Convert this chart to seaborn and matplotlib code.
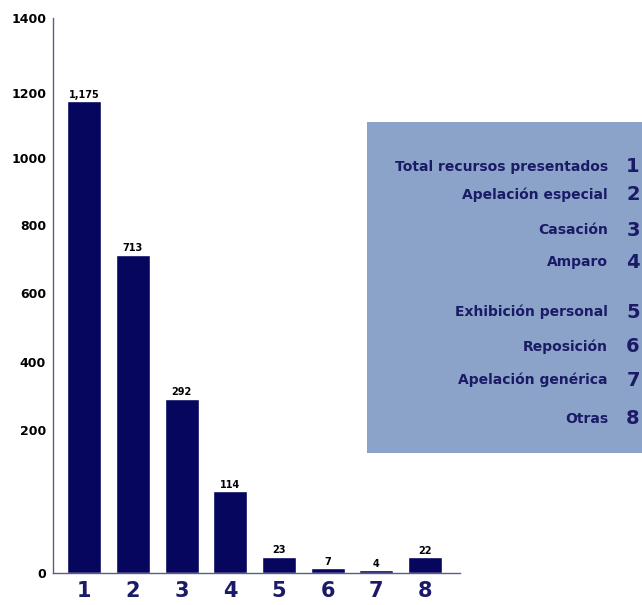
import matplotlib
matplotlib.use("Agg")
import matplotlib.pyplot as plt
from matplotlib.patches import Rectangle
import numpy as np
import pandas as pd
import seaborn as sns

# data
categories = ["1", "2", "3", "4", "5", "6", "7", "8"]
values = [1175, 713, 292, 114, 23, 7, 4, 22]
names = ["Total recursos presentados", "Apelación especial", "Casación",
         "Amparo", "Exhibición personal", "Reposición",
         "Apelación genérica", "Otras"]
yticks = [0, 200, 400, 600, 800, 1000, 1200, 1400]

NAVY = "#06065e"
TEXT_NAVY = "#1a1a66"
BOX = "#8ca3c9"

# the printed axis is not linear: the first step is about twice as tall
tick_pos = [0, 143, 211, 280, 348, 415, 480, 555]


def fwd(v):
    return np.interp(v, yticks, tick_pos, left=0, right=555)


def inv(p):
    return np.interp(p, tick_pos, yticks, left=0, right=1400)


def main():
    sns.set_style("white")
    plt.rcParams["font.family"] = ["DejaVu Sans"]
    df = pd.DataFrame({"cat": categories, "value": values})

    fig = plt.figure(figsize=(6.42, 6.05), dpi=100)
    ax = fig.add_axes([0.0826, 0.0529, 0.634, 0.9174])
    ax.set_yscale("function", functions=(fwd, inv))
    sns.barplot(data=df, x="cat", y="value", color=NAVY, saturation=1,
                width=0.7, ax=ax)
    ax.set_ylim(0, 1400)
    ax.set_xlim(-0.64, 7.72)
    ax.set_yticks(yticks)
    ax.set_yticklabels([str(t) for t in yticks])
    ax.yaxis.set_minor_locator(matplotlib.ticker.NullLocator())
    ax.set_xlabel("")
    ax.set_ylabel("")

    for c in ax.containers:
        ax.bar_label(c, labels=[f"{v:,}" for v in values], padding=1,
                     fontsize=7, fontweight="bold", color="black")

    for s in ["top", "right"]:
        ax.spines[s].set_visible(False)
    for s in ["left", "bottom"]:
        ax.spines[s].set_color("#5c5c8c")
        ax.spines[s].set_linewidth(1)
    ax.tick_params(axis="both", length=0)
    ax.tick_params(axis="y", pad=5, labelsize=9, labelcolor="black")
    ax.tick_params(axis="x", pad=6, labelsize=15, labelcolor=TEXT_NAVY)
    for t in ax.get_yticklabels():
        t.set_fontweight("bold")
    for t in ax.get_xticklabels():
        t.set_fontweight("bold")

    # legend box with the names of each number
    fig.add_artist(Rectangle((0.5717, 0.2512), 0.428, 0.547,
                             transform=fig.transFigure, facecolor=BOX,
                             edgecolor="none"))
    rows = [167, 195, 230, 262, 312, 347, 380, 419]
    for name, num, y in zip(names, categories, rows):
        fy = 1 - y / 605
        fig.text(0.947, fy, name, ha="right", va="center", fontsize=10,
                 fontweight="bold", color=TEXT_NAVY)
        fig.text(0.986, fy, num, ha="center", va="center", fontsize=14,
                 fontweight="bold", color=TEXT_NAVY)

    plt.savefig("out.png", dpi=100)
    plt.close()


if __name__ == "__main__":
    main()
